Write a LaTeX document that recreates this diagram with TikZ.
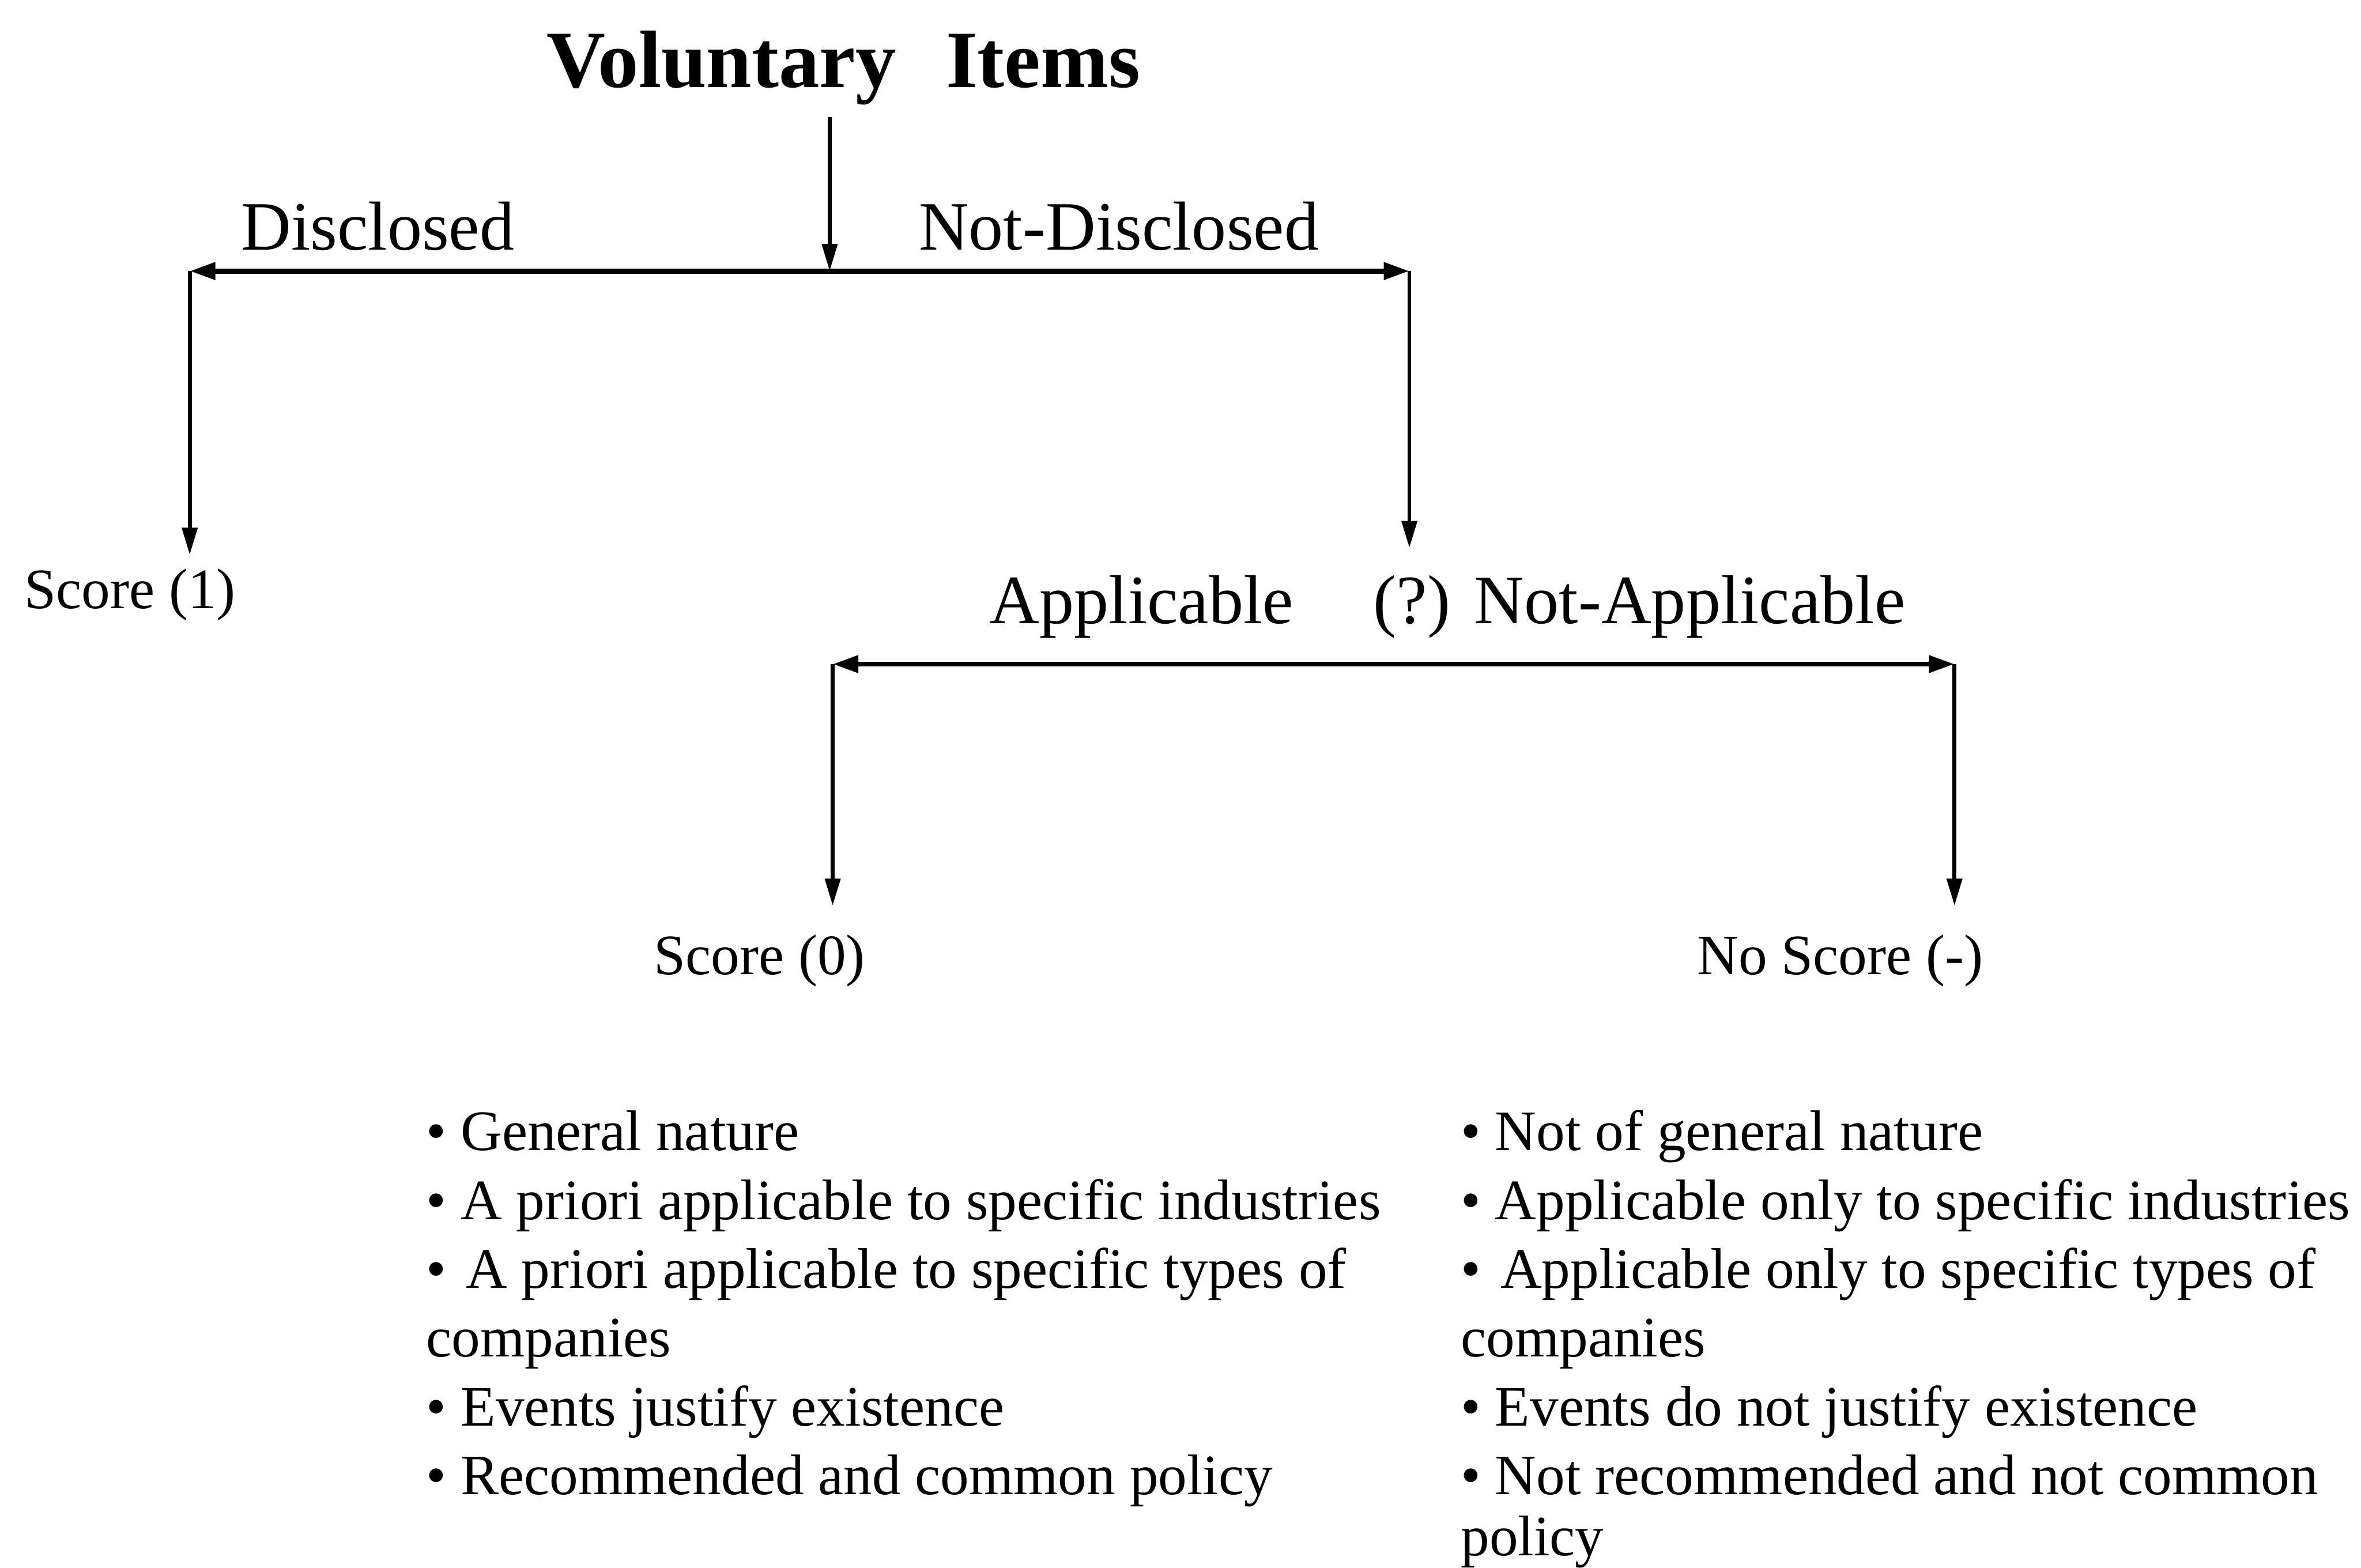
\documentclass[tikz,border=0pt]{standalone}
\usepackage{fontspec}
\setmainfont{Liberation Serif}
\usetikzlibrary{arrows.meta}
\begin{document}
\begin{tikzpicture}[x=1pt,y=-1pt,
  every node/.style={inner sep=0pt, anchor=base west},
  ttl/.style={font=\fontsize{54}{58}\selectfont\bfseries},
  lab/.style={font=\fontsize{46}{50}\selectfont},
  sml/.style={font=\fontsize{38}{45}\selectfont},
  stem/.style={line width=2.6pt, -{Triangle[length=18pt,width=10pt]}},
  bar/.style={line width=3.4pt, {Triangle[length=17pt,width=11pt]}-{Triangle[length=17pt,width=11pt]}}]
\useasboundingbox (0,0) rectangle (1568,1041);
% texts
\node[ttl] (title) at (363,58) {Voluntary\hspace{33pt}Items};
\node[lab] (dis) at (160,166) {Disclosed};
\node[lab] (ndis) at (610,166) {Not-Disclosed};
\node[sml] (s1) at (16,404) {Score (1)};
\node[lab] (app) at (657,414) {Applicable};
\node[lab] (q) at (912,414) {(?)};
\node[lab] (napp) at (979,414) {Not-Applicable};
\node[sml] (s0) at (434,647) {Score (0)};
\node[sml] (ns) at (1127,647) {No Score (-)};
% junctions
\coordinate (j1) at (551,180);
\coordinate (L1) at (126,180);
\coordinate (R1) at (936,180);
\coordinate (L2) at (553,441);
\coordinate (R2) at (1298,441);
% connectors
\draw[stem, shorten <=8pt] (title.south -| j1) -- (j1);
\draw[bar] (L1) -- (R1);
\draw[stem, shorten >=9pt] (L1) -- (L1 |- s1.north);
\draw[stem, shorten >=18pt] (R1) -- (R1 |- q.north);
\draw[bar] (L2) -- (R2);
\draw[stem, shorten >=19pt] (L2) -- (L2 |- s0.north);
\draw[stem, shorten >=19pt] (R2) -- (R2 |- ns.north);
% left list
\node[sml] (a1) at (283,764) {• General nature};
\node[sml] (a2) at (283,809.7) {• A priori applicable to specific industries};
\node[sml] (a3) at (283,855.4) {•\hspace{13pt}A priori applicable to specific types of};
\node[sml] (a4) at (283,901) {companies};
\node[sml] (a5) at (283,946.8) {• Events justify existence};
\node[sml] (a6) at (283,992.5) {• Recommended and common policy};
% right list
\node[sml] (b1) at (970,764) {• Not of general nature};
\node[sml] (b2) at (970,809.7) {• Applicable only to specific industries};
\node[sml] (b3) at (970,855.4) {•\hspace{13pt}Applicable only to specific types of};
\node[sml] (b4) at (970,901) {companies};
\node[sml] (b5) at (970,946.8) {• Events do not justify existence};
\node[sml] (b6) at (970,992.5) {• Not recommended and not common};
\node[sml] (b7) at (970,1033) {policy};
\end{tikzpicture}
\end{document}
